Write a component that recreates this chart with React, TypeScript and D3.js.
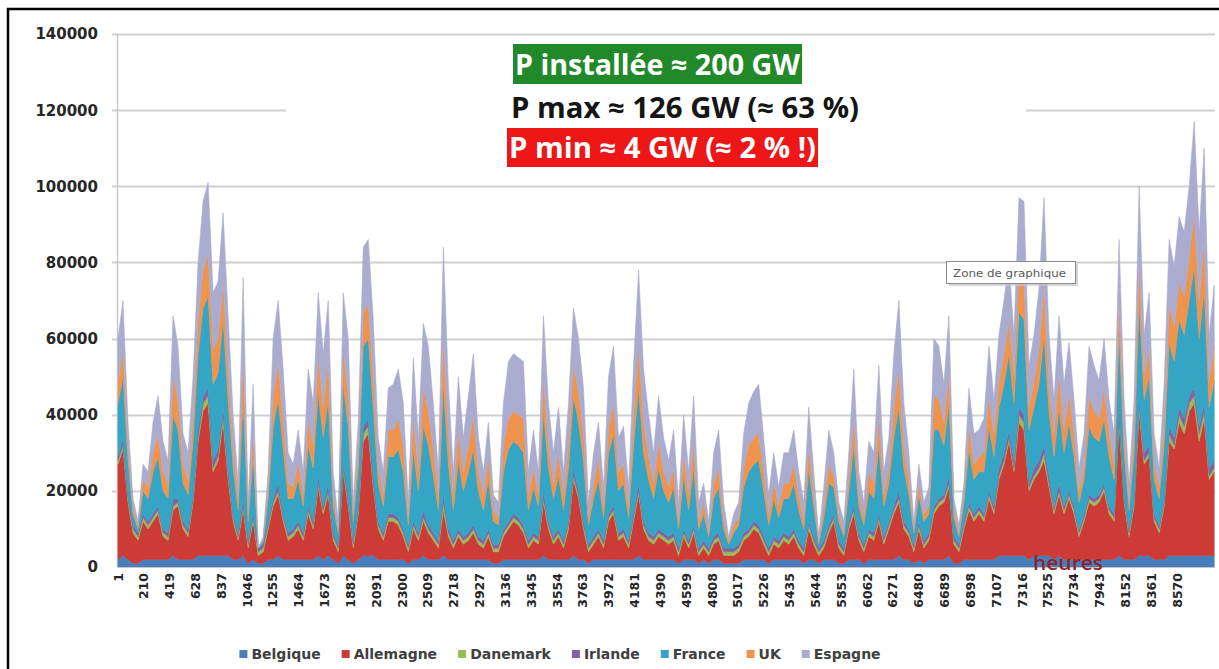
import React, { useEffect, useRef } from 'react'
import * as d3 from 'd3'

const W = 1219
const H = 669

const COUNTRIES = ['Belgique', 'Allemagne', 'Danemark', 'Irlande', 'France', 'UK', 'Espagne']
const COLORS = ['#4a7ebb', '#cc3b36', '#9bbb59', '#8064a2', '#35a5c5', '#f0944d', '#a9abcf']

// one sample every ~40 hours, values in GW
const STEP_H = 40.5
const LAST_HOUR = 8877

const BELGIQUE = [
  2,3,2,1,1,2,2,2,2,2,2, 3,2,2,2,2,3,3,3,3,3,3, 3,2,2,3,1,2,1,1,2,2,3, 2,2,2,2,2,2,2,3,2,3,2, 1,3,2,1,2,3,3,3,2,2,2,
  2,2,2,1,2,2,3,2,2,2,3, 2,2,2,2,2,2,2,2,2,1,1, 2,2,2,2,2,2,2,2,3,2,2, 2,2,2,3,2,2,1,2,2,2,2, 2,2,2,2,2,3,2,2,2,2,2,
  2,2,1,2,2,2,1,2,1,2,2, 1,1,1,1,2,2,2,2,2,1,2, 2,2,2,2,2,1,2,2,1,2,2, 2,1,1,2,2,2,1,2,2,2,2, 2,2,3,2,2,1,2,1,2,2,2,
  2,3,1,1,2,2,2,2,2,2,2, 3,3,3,3,3,3,2,3,3,3,3, 2,3,2,2,2,2,2,2,2,2,2, 2,2,3,2,2,2,3,3,3,2,2, 2,3,3,3,3,3,3,3,3,3,3,
]

const ALLEMAGNE = [
  25,28,15,8,6,10,8,10,12,6,5, 12,14,8,6,15,30,38,40,22,25,35, 20,10,5,12,4,10,2,3,8,14,16, 10,5,6,8,5,12,8,18,12,16,5, 3,22,14,4,12,30,32,18,8,5,10,
  10,9,6,3,8,5,9,7,5,3,12, 6,3,6,4,5,7,4,3,6,3,3, 6,8,10,9,7,3,5,4,14,8,4, 6,3,8,20,16,8,3,4,6,3,10, 12,5,6,3,10,16,8,5,4,6,5,
  4,5,2,6,3,7,2,3,2,4,5, 2,2,2,3,5,6,8,7,4,2,4, 3,5,4,6,3,2,8,4,2,3,7, 10,4,2,8,12,5,3,6,5,10,4, 8,12,14,8,6,3,8,4,5,12,14,
  15,18,5,3,8,13,10,12,10,16,12, 20,24,30,22,35,33,18,20,22,25,18, 12,16,12,16,12,6,10,15,14,15,18, 12,10,35,15,6,14,38,24,26,10,7, 14,30,28,35,32,38,40,30,36,20,22,
]

const DANEMARK = [
  1,1,1,1,1,1,1,1,1,1,1, 1,1,1,1,1,1,2,2,1,1,2, 1,1,1,1,1,1,1,1,1,1,1, 1,1,1,1,1,1,1,1,1,1,1, 1,1,1,1,1,2,2,1,1,1,1,
  1,1,1,1,1,1,1,1,1,1,2, 1,1,1,1,1,1,1,1,1,1,1, 1,1,1,1,1,1,1,1,1,1,1, 1,1,1,1,1,1,1,1,1,1,1, 1,1,1,1,1,1,1,1,1,1,1,
  1,1,1,1,1,1,1,1,1,1,1, 1,1,1,1,1,1,1,1,1,1,1, 1,1,1,1,1,1,1,1,1,1,1, 1,1,1,1,1,1,1,1,1,1,1, 1,1,1,1,1,1,1,1,1,1,1,
  1,1,1,1,1,1,1,1,1,1,1, 1,1,1,1,2,2,1,1,1,2,1, 1,1,1,1,1,1,1,1,1,1,1, 1,1,2,1,1,1,2,1,1,1,1, 1,2,1,2,2,2,2,2,2,1,1,
]

const IRLANDE = [
  1,2,1,1,1,1,1,1,1,1,1, 2,1,1,1,1,2,2,2,2,2,2, 2,1,1,2,1,1,1,1,1,1,2, 1,1,1,1,1,1,1,2,1,2,1, 1,2,1,1,1,2,2,2,1,1,1,
  1,1,1,1,1,1,2,1,1,1,2, 1,1,1,1,1,1,1,1,1,1,1, 1,1,1,1,1,1,1,1,2,1,1, 1,1,1,2,1,1,1,1,1,1,1, 1,1,1,1,1,2,1,1,1,1,1,
  1,1,1,1,1,1,1,1,1,1,1, 1,1,1,1,1,1,1,1,1,1,1, 1,1,1,1,1,1,1,1,1,1,1, 1,1,1,1,1,1,1,1,1,1,1, 1,1,2,1,1,1,1,1,1,1,1,
  1,2,1,1,1,1,1,1,1,1,1, 2,2,2,2,2,2,1,2,2,2,2, 1,2,1,1,1,1,1,1,1,1,1, 1,1,2,1,1,1,2,2,2,1,1, 1,2,2,2,2,2,2,2,2,2,2,
]

const FRANCE = [
  14,16,9,3,1,6,6,11,13,10,9, 22,18,10,9,14,20,23,24,20,20,23, 18,12,6,26,5,15,0,1,6,19,22, 17,9,8,11,7,16,14,22,18,22,7, 3,20,19,5,10,21,21,18,10,7,15,
  15,18,15,5,19,11,22,21,15,8,29, 17,8,18,12,16,20,12,8,13,6,5, 15,19,19,19,19,8,12,8,21,14,10, 14,8,14,19,18,16,5,10,13,6,16, 19,11,12,6,18,25,18,14,10,16,11,
  9,12,5,14,8,15,5,7,3,10,12, 5,1,4,5,12,15,15,17,12,6,10, 6,9,10,12,8,5,14,8,1,6,11, 7,5,3,8,16,7,5,10,9,18,8, 10,18,22,14,9,3,7,5,5,20,18,
  13,19,5,2,5,14,9,9,11,17,13, 16,18,20,15,25,25,14,16,20,29,17, 13,20,14,18,13,7,9,18,16,14,17, 13,9,20,11,5,12,25,14,18,9,7, 14,22,20,23,22,25,32,23,30,16,21,
]

const UK = [
  6,7,4,1,1,3,3,5,6,5,4, 10,8,5,4,6,9,10,11,9,9,10, 8,5,3,12,2,7,0,0,3,8,10, 8,4,3,5,3,7,6,10,8,10,3, 1,9,8,2,4,9,9,8,4,3,7,
  7,8,7,2,9,5,10,9,7,4,13, 8,4,8,5,7,9,5,4,6,3,2, 7,8,8,8,9,4,5,3,9,6,4, 6,4,6,8,8,7,2,4,6,3,7, 8,5,5,3,8,11,8,6,4,7,5,
  4,5,2,6,4,7,2,3,1,4,5, 2,1,2,2,5,7,7,7,5,3,4, 3,4,4,5,4,2,6,3,1,3,5, 3,2,1,4,7,3,2,5,4,8,3, 4,8,10,6,4,1,3,2,2,9,8,
  6,8,2,1,2,6,4,4,5,8,6, 7,8,9,7,11,11,6,7,9,13,7, 6,9,6,8,6,3,4,8,7,6,8, 6,4,9,5,2,5,11,6,8,4,3, 6,10,9,10,10,11,14,10,13,7,9,
]

const ESPAGNE = [
  11,13,6,3,1,4,4,8,10,8,6, 16,14,8,7,11,15,18,19,15,15,18, 14,9,4,20,3,12,0,1,4,15,16, 13,8,6,8,6,13,11,16,14,16,6, 2,15,15,3,8,17,17,15,8,6,11,
  12,13,11,4,15,9,17,17,12,6,23, 13,6,14,9,13,16,9,6,9,4,4, 11,15,15,15,15,6,10,6,16,11,8, 12,6,11,15,14,12,4,8,9,5,13, 15,9,10,5,13,20,14,11,8,12,9,
  7,10,5,10,6,12,5,5,3,8,10, 5,1,3,4,9,11,12,13,9,5,8, 5,8,8,9,6,5,10,6,1,5,9, 6,3,3,6,13,6,4,8,8,13,6, 8,14,18,11,7,2,5,3,5,15,14,
  10,15,3,2,3,10,8,7,9,13,9, 12,14,15,11,19,20,11,12,16,23,13, 9,15,12,13,9,6,8,13,12,10,13, 9,8,15,9,5,9,19,11,14,8,5, 10,17,16,17,17,19,24,18,24,12,16,
]

const SERIES = [BELGIQUE, ALLEMAGNE, DANEMARK, IRLANDE, FRANCE, UK, ESPAGNE]

const Y_TICKS = [0, 20000, 40000, 60000, 80000, 100000, 120000, 140000]
const X_LABELS = [
  1, 210, 419, 628, 837, 1046, 1255, 1464, 1673, 1882, 2091, 2300, 2509, 2718,
  2927, 3136, 3345, 3554, 3763, 3972, 4181, 4390, 4599, 4808, 5017, 5226, 5435,
  5644, 5853, 6062, 6271, 6480, 6689, 6898, 7107, 7316, 7525, 7734, 7943, 8152,
  8361, 8570,
]

const NOTE_1 = 'P installée ≈ 200 GW'
const NOTE_2 = 'P max ≈ 126 GW (≈ 63 %)'
const NOTE_3 = 'P min ≈ 4 GW (≈ 2 % !)'

function App() {
  const ref = useRef<SVGSVGElement>(null)

  useEffect(() => {
    const svg = d3.select(ref.current)
    svg.selectAll('*').remove()

    const margin = { top: 34, right: 4, bottom: 102, left: 117 }

    const x = d3.scaleLinear()
      .domain([1, LAST_HOUR])
      .range([margin.left + 1, W - margin.right])

    const y = d3.scaleLinear()
      .domain([0, 140000])
      .range([H - margin.bottom, margin.top])

    // outer frame
    svg.append('rect')
      .attr('x', 8).attr('y', 9)
      .attr('width', W + 20).attr('height', H + 20)
      .attr('fill', '#fff')
      .attr('stroke', '#000')
      .attr('stroke-width', 2.5)

    // gridlines
    svg.append('g')
      .selectAll('line')
      .data(Y_TICKS.slice(1))
      .join('line')
      .attr('x1', margin.left - 5)
      .attr('x2', W - margin.right)
      .attr('y1', d => Math.round(y(d)) + 0.5)
      .attr('y2', d => Math.round(y(d)) + 0.5)
      .attr('stroke', '#cfcfcf')
      .attr('stroke-width', 2)

    // y axis
    svg.append('line')
      .attr('x1', margin.left + 0.5).attr('x2', margin.left + 0.5)
      .attr('y1', y(140000)).attr('y2', y(0))
      .attr('stroke', '#c8c8c8')
      .attr('stroke-width', 1.5)

    svg.append('g')
      .selectAll('text')
      .data(Y_TICKS)
      .join('text')
      .attr('x', 98)
      .attr('y', d => y(d))
      .attr('dy', '0.36em')
      .attr('text-anchor', 'end')
      .attr('font-family', 'DejaVu Sans, sans-serif')
      .attr('font-weight', 'bold')
      .attr('font-size', 15)
      .attr('fill', '#262626')
      .text(d => d)

    // stacked areas
    const rows = ALLEMAGNE.map((_, i) => {
      const row: any = { hour: 1 + i * STEP_H }
      COUNTRIES.forEach((c, k) => { row[c] = (SERIES[k][i] || 0) * 1000 })
      return row
    })

    const stacked = d3.stack().keys(COUNTRIES)(rows)

    const area = d3.area<any>()
      .x(d => x(d.data.hour))
      .y0(d => y(d[0]))
      .y1(d => y(d[1]))

    svg.append('g')
      .selectAll('path')
      .data(stacked)
      .join('path')
      .attr('d', area)
      .attr('fill', (_, i) => COLORS[i])
      .attr('stroke', (_, i) => COLORS[i])
      .attr('stroke-width', 0.6)

    // x axis line
    svg.append('line')
      .attr('x1', margin.left).attr('x2', W - margin.right)
      .attr('y1', y(0) + 0.5).attr('y2', y(0) + 0.5)
      .attr('stroke', '#c8c8c8')

    // x labels (rotated)
    svg.append('g')
      .selectAll('text')
      .data(X_LABELS)
      .join('text')
      .attr('transform', d => `translate(${x(d)},${y(0) + 6}) rotate(-90)`)
      .attr('dy', '0.36em')
      .attr('text-anchor', 'end')
      .attr('font-family', 'DejaVu Sans, sans-serif')
      .attr('font-weight', 'bold')
      .attr('font-size', 12.5)
      .attr('fill', '#262626')
      .text(d => d)

    // "heures"
    svg.append('text')
      .attr('x', 1033)
      .attr('y', 570)
      .attr('font-family', 'Open Sans, sans-serif')
      .attr('font-weight', 600)
      .attr('font-size', 19)
      .attr('fill', '#8f2428')
      .attr('textLength', 70)
      .attr('lengthAdjust', 'spacingAndGlyphs')
      .text('heures')

    // text box
    svg.append('rect')
      .attr('x', 286).attr('y', 40)
      .attr('width', 740).attr('height', 140)
      .attr('fill', '#fff')

    svg.append('rect')
      .attr('x', 513).attr('y', 44)
      .attr('width', 289).attr('height', 40)
      .attr('fill', '#22892a')

    svg.append('rect')
      .attr('x', 507).attr('y', 128)
      .attr('width', 311).attr('height', 39)
      .attr('fill', '#ee1616')

    const notes = [
      { t: NOTE_1, x: 515, y: 75, w: 285, c: '#fff' },
      { t: NOTE_2, x: 511, y: 118, w: 348, c: '#151515' },
      { t: NOTE_3, x: 509, y: 158, w: 307, c: '#fff' },
    ]
    svg.append('g')
      .selectAll('text')
      .data(notes)
      .join('text')
      .attr('x', d => d.x)
      .attr('y', d => d.y)
      .attr('font-family', 'Open Sans, sans-serif')
      .attr('font-weight', 'bold')
      .attr('font-size', 28)
      .attr('fill', d => d.c)
      .attr('textLength', d => d.w)
      .attr('lengthAdjust', 'spacingAndGlyphs')
      .text(d => d.t)

    // "Zone de graphique" tooltip
    const tip = svg.append('g')
    tip.append('rect')
      .attr('x', 949).attr('y', 264)
      .attr('width', 129).attr('height', 22)
      .attr('fill', '#c4c4c4')
      .attr('opacity', 0.7)
    tip.append('rect')
      .attr('x', 946.5).attr('y', 261.5)
      .attr('width', 129).attr('height', 22)
      .attr('fill', '#fff')
      .attr('stroke', '#8a8a8a')
    tip.append('text')
      .attr('x', 953).attr('y', 277)
      .attr('font-family', 'DejaVu Sans, sans-serif')
      .attr('font-size', 10.5)
      .attr('fill', '#5a5a5a')
      .attr('textLength', 113)
      .attr('lengthAdjust', 'spacingAndGlyphs')
      .text('Zone de graphique')

    // legend
    const legend = svg.append('g')
    let cx = 0
    COUNTRIES.forEach((c, i) => {
      const g = legend.append('g').attr('transform', `translate(${cx},0)`)
      g.append('rect')
        .attr('x', 0).attr('y', -9)
        .attr('width', 8).attr('height', 8)
        .attr('fill', COLORS[i])
      const t = g.append('text')
        .attr('x', 12).attr('y', 0)
        .attr('font-family', 'DejaVu Sans, sans-serif')
        .attr('font-weight', 'bold')
        .attr('font-size', 14)
        .attr('fill', '#404040')
        .text(c)
      const len = (t.node() as SVGTextElement).getComputedTextLength()
      cx += 12 + len + 21
    })
    const total = cx - 21
    legend.attr('transform', `translate(${560 - total / 2},659)`)
  }, [])

  return (
    <svg
      ref={ref}
      width={W}
      height={H}
      viewBox={`0 0 ${W} ${H}`}
      style={{ position: 'absolute', left: 0, top: 0, background: '#fff' }}
    />
  )
}

export default App
